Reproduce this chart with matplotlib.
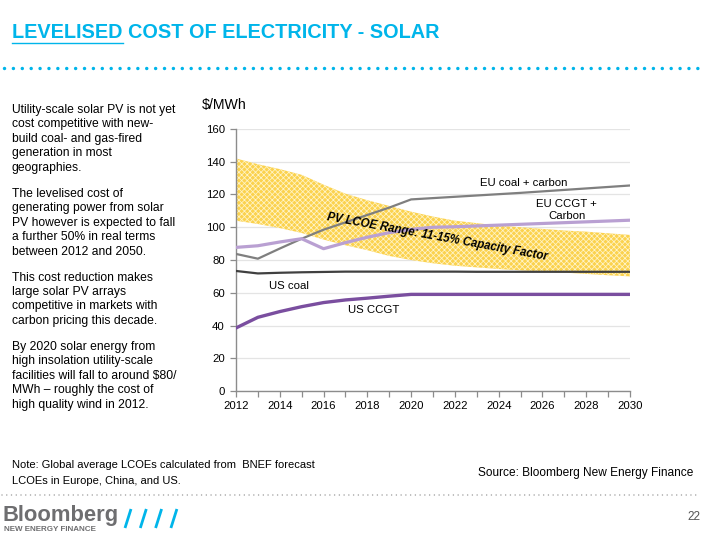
import numpy as np
import matplotlib
matplotlib.use("Agg")
import matplotlib.pyplot as plt
from matplotlib.lines import Line2D

plt.rcParams['font.family'] = ['Liberation Sans', 'DejaVu Sans']
plt.rcParams['hatch.linewidth'] = 0.55

# ---------------- data ----------------
years = list(range(2012, 2031))
pv_upper = [142, 138.5, 135.5, 132, 126, 120.5, 116.5, 113, 109.5, 106.5, 104,
            102.5, 101, 100, 99, 98, 97.3, 96.3, 95.3]
pv_lower = [104, 102, 99.5, 96.5, 92.5, 89, 86, 82.5, 80, 78, 76.5,
            75.5, 74.5, 73.7, 73, 72.3, 71.5, 70.7, 70]
eu_coal = [83.7, 80.8, 87, 93, 98.5, 103, 107.5, 112, 117, 117.8, 118.6,
           119.4, 120.2, 121, 121.9, 122.8, 123.7, 124.6, 125.5]
eu_ccgt = [87.7, 88.7, 91, 93, 86.9, 90.6, 93.9, 96.7, 98.7, 100, 100.3,
           100.8, 101.3, 101.8, 102.3, 102.8, 103.3, 103.8, 104.3]
us_coal = [73.3, 71.8, 72.2, 72.5, 72.7, 72.9, 72.9, 72.9, 72.9, 72.9, 72.9,
           72.8, 72.8, 72.8, 72.8, 72.8, 72.8, 72.8, 72.8]
us_ccgt = [38.5, 45, 48.5, 51.5, 54, 55.6, 56.7, 57.9, 59, 59, 59,
           59, 59, 59, 59, 59, 59, 59, 59]
x_ticks = list(range(2012, 2031, 2))
y_ticks = list(range(0, 161, 20))

title = "LEVELISED COST OF ELECTRICITY - SOLAR"
paragraphs = [
    ["Utility-scale solar PV is not yet", "cost competitive with new-",
     "build coal- and gas-fired", "generation in most", "geographies."],
    ["The levelised cost of", "generating power from solar",
     "PV however is expected to fall", "a further 50% in real terms",
     "between 2012 and 2050."],
    ["This cost reduction makes", "large solar PV arrays",
     "competitive in markets with", "carbon pricing this decade."],
    ["By 2020 solar energy from", "high insolation utility-scale",
     "facilities will fall to around $80/", "MWh \u2013 roughly the cost of",
     "high quality wind in 2012."],
]
note_lines = ["Note: Global average LCOEs calculated from  BNEF forecast",
              "LCOEs in Europe, China, and US."]
source = "Source: Bloomberg New Energy Finance"

# ---------------- figure ----------------
W, H = 708, 536
fig = plt.figure(figsize=(W / 100, H / 100), dpi=100)
fig.patch.set_facecolor('white')


def fx(x):
    return x / W


def fy(y):
    return 1 - y / H


CYAN = '#00B5EA'

# title
t = fig.text(fx(12), fy(33), title, fontsize=14.3, fontweight='bold',
             color=CYAN, va='center', ha='left')
fig.canvas.draw()
r = fig.canvas.get_renderer()
tmp = fig.text(fx(12), fy(33), "LEVELISED", fontsize=14.3, fontweight='bold',
               va='center', ha='left')
bb = tmp.get_window_extent(r)
tmp.remove()
fig.add_artist(Line2D([fx(12), fx(12) + bb.width / W], [fy(42.5), fy(42.5)],
                      color=CYAN, lw=1.0, transform=fig.transFigure))

# dotted line under title
fig.add_artist(Line2D([fx(4), fx(706)], [fy(68), fy(68)], color=CYAN, lw=2.5,
                      linestyle=(0, (0.01, 2.55)), dash_capstyle='round',
                      transform=fig.transFigure))

# left text
starts = [110, 194, 277.7, 347]
for para, y0 in zip(paragraphs, starts):
    for i, line in enumerate(para):
        fig.text(fx(12), fy(y0 + i * 14.4), line, fontsize=8.7, color='black',
                 va='center', ha='left')

# ---------------- axes ----------------
ax = fig.add_axes([fx(236), fy(391), (630 - 236) / W, (391 - 129) / H])
ax.set_xlim(2012, 2030)
ax.set_ylim(0, 160)

ax.fill_between(years, pv_lower, pv_upper, facecolor='#FBD24E',
                edgecolor='#FFF4C8', hatch='xxxxxx', linewidth=0, zorder=2)

ax.plot(years, eu_coal, color='#7F7F7F', lw=1.6, zorder=4)
ax.plot(years, eu_ccgt, color='#B9A0D2', lw=2.3, zorder=4)
ax.plot(years, us_coal, color='#404040', lw=1.6, zorder=4)
ax.plot(years, us_ccgt, color='#7A4E9F', lw=2.4, zorder=4)

ax.set_yticks(y_ticks)
ax.set_xticks(x_ticks)
ax.set_xticks(years, minor=True)
ax.grid(axis='y', color='#E4E4E4', lw=0.9, zorder=0)
ax.set_axisbelow(True)
for s in ['top', 'right']:
    ax.spines[s].set_visible(False)
for s in ['left', 'bottom']:
    ax.spines[s].set_color('#8C8C8C')
    ax.spines[s].set_linewidth(1.0)
ax.tick_params(axis='both', which='both', colors='#8C8C8C', length=4,
               width=0.9, labelcolor='black', labelsize=8.2)
ax.tick_params(axis='x', which='major', pad=3)
ax.tick_params(axis='y', which='major', pad=4)

# labels in the chart
fig.text(fx(202), fy(105), "$/MWh", fontsize=10.2, va='center', ha='left')
ax.text(2025.15, 127.0, "EU coal + carbon", fontsize=8.2, ha='center',
        va='center')
ax.text(2027.1, 110.8, "EU CCGT +\nCarbon", fontsize=8.2, ha='center',
        va='center', linespacing=1.25)
ax.text(2014.4, 64.4, "US coal", fontsize=8.2, ha='center', va='center')
ax.text(2018.3, 49.4, "US CCGT", fontsize=8.2, ha='center', va='center')
ax.text(2021.2, 93.8, "PV LCOE Range: 11-15% Capacity Factor", fontsize=8.3,
        fontweight='bold', fontstyle='italic', ha='center', va='center',
        rotation=-10.3, rotation_mode='anchor', zorder=5)

# footer
fig.text(fx(12), fy(465), note_lines[0], fontsize=8.0, va='center', ha='left')
fig.text(fx(12), fy(480.5), note_lines[1], fontsize=8.0, va='center', ha='left')
fig.text(fx(693), fy(472.7), source, fontsize=8.6, va='center', ha='right')

fig.add_artist(Line2D([fx(2), fx(698)], [fy(495), fy(495)], color='#9A9A9A',
                      lw=1.1, linestyle=(0, (0.01, 3.1)), dash_capstyle='round',
                      transform=fig.transFigure))

fig.text(fx(2), fy(520.5), "Bloomberg", fontsize=15.8, fontweight='bold',
         color='#6E6E70', va='baseline', ha='left')
fig.text(fx(4), fy(529.5), "NEW ENERGY FINANCE", fontsize=5.8, fontweight='bold',
         color='#6E6E70', va='center', ha='left')
for i in range(4):
    x0 = 125 + 15.3 * i
    fig.add_artist(Line2D([fx(x0), fx(x0 + 6)], [fy(528), fy(509)], color=CYAN,
                          lw=2.0, transform=fig.transFigure,
                          solid_capstyle='butt'))
fig.text(fx(700), fy(517), "22", fontsize=8.5, color='#555555', va='center',
         ha='right')

fig.savefig("out.png", dpi=100)
